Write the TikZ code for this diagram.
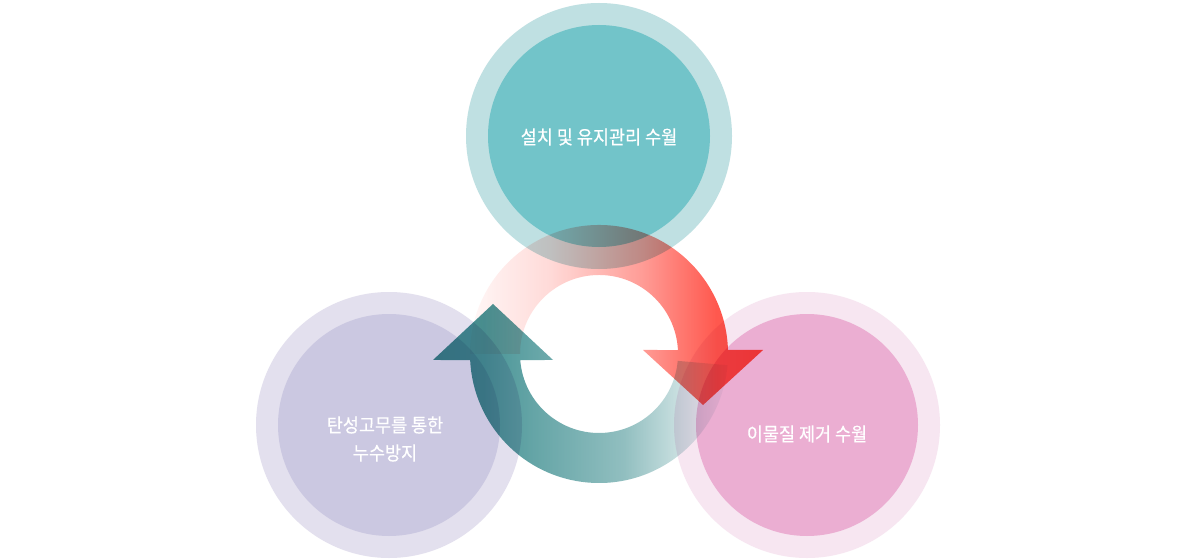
\documentclass[tikz,border=0pt]{standalone}
\usepackage{fontspec}
\newfontfamily\kr[FakeStretch=0.92,FakeBold=0.4]{Noto Sans CJK KR}
\usetikzlibrary{fadings,calc}

\definecolor{topout}{HTML}{BFE0E2}
\definecolor{topin}{HTML}{72C4C9}
\definecolor{leftout}{HTML}{E3E0EE}
\definecolor{leftin}{HTML}{CBC8E1}
\definecolor{rightout}{HTML}{F7E6F1}
\definecolor{rightin}{HTML}{EBAED2}
\definecolor{redc}{HTML}{FF4A3F}
\definecolor{tealc}{HTML}{3F8F91}

\pgfdeclarehorizontalshading{redfadeshade}{100bp}{color(0bp)=(black); color(25bp)=(black); color(40bp)=(white!20!black); color(54bp)=(white!55!black); color(65bp)=(white!92!black); color(75bp)=(white); color(100bp)=(white)}
\pgfdeclarehorizontalshading{tealfadeshade}{100bp}{color(0bp)=(white); color(25bp)=(white); color(35.5bp)=(white!95!black); color(43bp)=(white!80!black); color(56.5bp)=(white!57!black); color(68.5bp)=(white!14!black); color(73.5bp)=(black); color(100bp)=(black)}

\begin{tikzfadingfrompicture}[name=redfade]
\shade[shading=redfadeshade] (-1cm,-1cm) rectangle (1cm,1cm);
\end{tikzfadingfrompicture}
\begin{tikzfadingfrompicture}[name=tealfade]
\shade[shading=tealfadeshade] (-1cm,-1cm) rectangle (1cm,1cm);
\end{tikzfadingfrompicture}

\tikzset{
  lbl/.style={text=white, font={\kr\fontsize{19}{28}\selectfont}, inner sep=0pt, align=center},
}

\begin{document}
\begin{tikzpicture}[x=1pt,y=-1pt]
\useasboundingbox (0,0) rectangle (1200,559);
\fill[white] (0,0) rectangle (1200,559);

% circles
\fill[topout] (599,136) circle[radius=133];
\fill[topin] (599,136) circle[radius=111];
\fill[leftout] (389,425) circle[radius=133];
\fill[leftin] (389,425) circle[radius=111];
\fill[rightout] (807,425) circle[radius=133];
\fill[rightin] (807,425) circle[radius=111];

\coordinate (C) at (599,354);

\begin{scope}[blend mode=multiply]
% red arrow (top, clockwise to the right)
\fill[redc, path fading=redfade]
  ($(C)+(180:129)$) arc[start angle=180, end angle=358.2, radius=129]
  -- (763,350) -- (703,405) -- (643,350)
  -- ($(C)+(357.1:79)$) arc[start angle=357.1, end angle=180, radius=79] -- cycle;
% teal arrow (bottom, to the left and up)
\fill[tealc, path fading=tealfade]
  ($(C)+(5:129)$) arc[start angle=5, end angle=177.3, radius=129]
  -- (433,360) -- (493,304) -- (553,360)
  -- ($(C)+(175.6:79)$) arc[start angle=175.6, end angle=5, radius=79] -- cycle;
\end{scope}

\node[lbl] (t1) at (599,137) {설치 및 유지관리 수월};
\node[lbl] (t2) at (385,439) {탄성고무를 통한\\누수방지};
\node[lbl] (t3) at (807,434) {이물질 제거 수월};
\end{tikzpicture}
\end{document}
